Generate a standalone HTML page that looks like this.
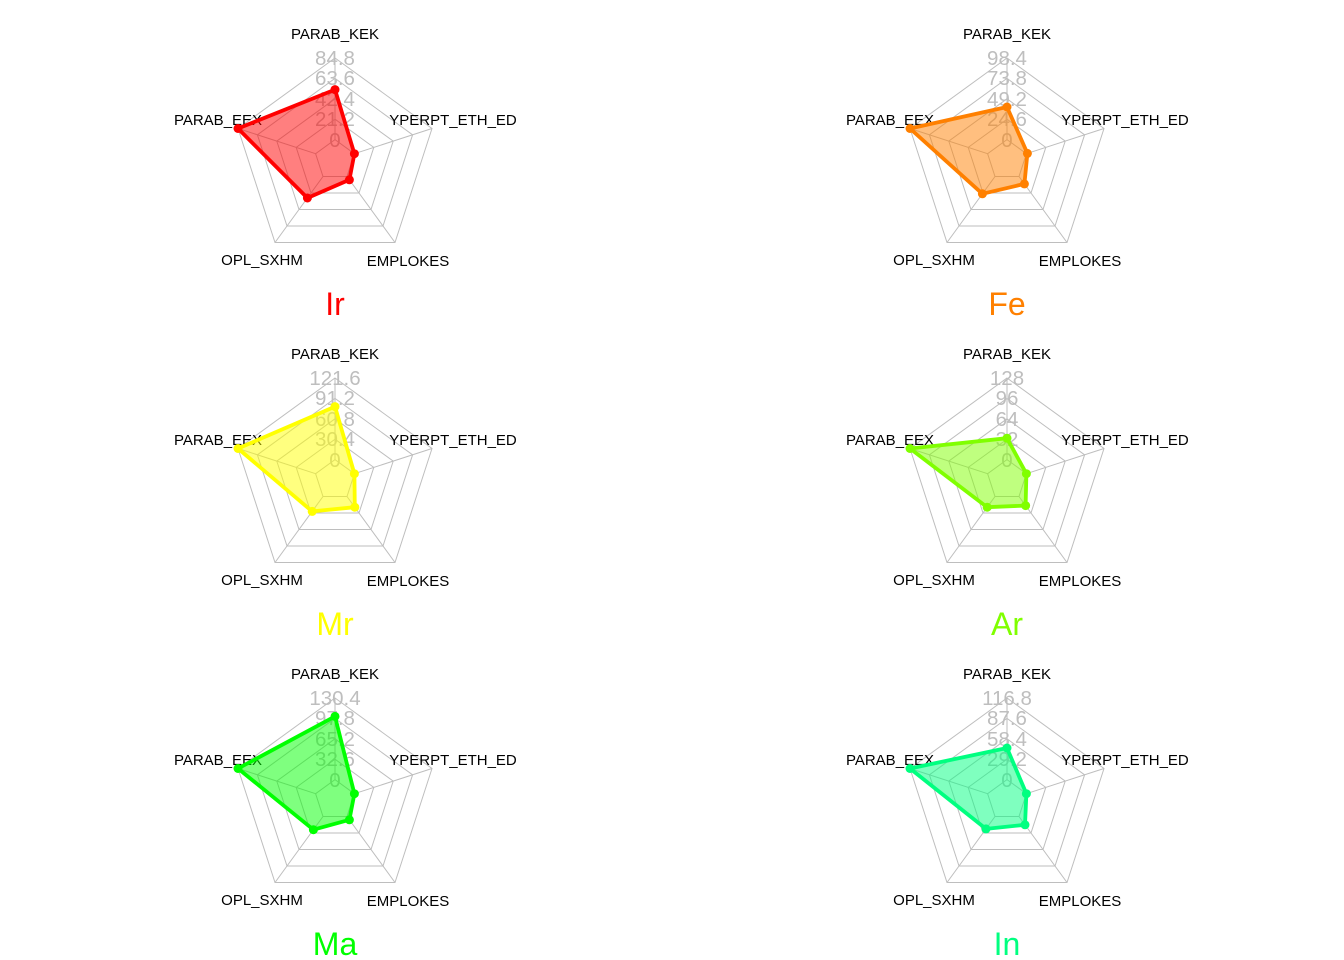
<!DOCTYPE html>
<html><head><meta charset="utf-8"><style>
html,body{margin:0;padding:0;background:#fff;}
svg{display:block;}
.l{font-family:"Liberation Sans",sans-serif;font-size:15px;fill:#000;text-anchor:middle;}
.t{font-family:"Liberation Sans",sans-serif;font-size:20.5px;fill:#bebebe;text-anchor:middle;}
.h{font-family:"Liberation Sans",sans-serif;font-size:32px;text-anchor:middle;}
polygon.d{stroke-width:3.8;stroke-linejoin:round;}
</style></head><body>
<svg width="1344" height="960" viewBox="0 0 1344 960" xmlns="http://www.w3.org/2000/svg">
<defs>
<g id="grid" fill="none" stroke="#bebebe" stroke-width="1">
<polygon points="0,-20.4 19.4,-6.3 12,16.5 -12,16.5 -19.4,-6.3"/>
<polygon points="0,-40.8 38.8,-12.6 24,33 -24,33 -38.8,-12.6"/>
<polygon points="0,-61.2 58.2,-18.9 36,49.5 -36,49.5 -58.2,-18.9"/>
<polygon points="0,-81.6 77.6,-25.2 48,66 -48,66 -77.6,-25.2"/>
<polygon points="0,-102 97,-31.5 60,82.5 -60,82.5 -97,-31.5"/>
<line x1="0" y1="-20.4" x2="0" y2="-102"/>
<line x1="19.4" y1="-6.3" x2="97" y2="-31.5"/>
<line x1="12" y1="16.5" x2="60" y2="82.5"/>
<line x1="-12" y1="16.5" x2="-60" y2="82.5"/>
<line x1="-19.4" y1="-6.3" x2="-97" y2="-31.5"/>
</g>
</defs>

<g transform="translate(335,160)">
<use href="#grid"/>
<text class="l" x="0" y="-121">PARAB_KEK</text><text class="l" x="-117" y="-35">PARAB_EEX</text><text class="l" x="118" y="-35">YPERPT_ETH_ED</text><text class="l" x="-73" y="105">OPL_SXHM</text><text class="l" x="73" y="106">EMPLOKES</text>
<text class="t" x="0" y="-95">84.8</text><text class="t" x="0" y="-75">63.6</text><text class="t" x="0" y="-54">42.4</text><text class="t" x="0" y="-34">21.2</text><text class="t" x="0" y="-13">0</text>
<polygon class="d" points="0,-70.4 19.4,-6.3 14.4,19.8 -27.6,38 -97,-31.5" fill="rgba(255,0,0,0.5)" stroke="#ff0000"/>
<g fill="#ff0000"><circle cx="0" cy="-70.4" r="4.5"/><circle cx="19.4" cy="-6.3" r="4.5"/><circle cx="14.4" cy="19.8" r="4.5"/><circle cx="-27.6" cy="38" r="4.5"/><circle cx="-97" cy="-31.5" r="4.5"/></g>
<text class="h" x="0" y="155" fill="#ff0000">Ir</text>
</g>

<g transform="translate(1007,160)">
<use href="#grid"/>
<text class="l" x="0" y="-121">PARAB_KEK</text><text class="l" x="-117" y="-35">PARAB_EEX</text><text class="l" x="118" y="-35">YPERPT_ETH_ED</text><text class="l" x="-73" y="105">OPL_SXHM</text><text class="l" x="73" y="106">EMPLOKES</text>
<text class="t" x="0" y="-95">98.4</text><text class="t" x="0" y="-75">73.8</text><text class="t" x="0" y="-54">49.2</text><text class="t" x="0" y="-34">24.6</text><text class="t" x="0" y="-13">0</text>
<polygon class="d" points="0,-53 20.4,-6.6 17.4,23.9 -24.6,33.8 -97,-31.5" fill="rgba(255,128,0,0.5)" stroke="#ff8000"/>
<g fill="#ff8000"><circle cx="0" cy="-53" r="4.5"/><circle cx="20.4" cy="-6.6" r="4.5"/><circle cx="17.4" cy="23.9" r="4.5"/><circle cx="-24.6" cy="33.8" r="4.5"/><circle cx="-97" cy="-31.5" r="4.5"/></g>
<text class="h" x="0" y="155" fill="#ff8000">Fe</text>
</g>

<g transform="translate(335,480)">
<use href="#grid"/>
<text class="l" x="0" y="-121">PARAB_KEK</text><text class="l" x="-117" y="-35">PARAB_EEX</text><text class="l" x="118" y="-35">YPERPT_ETH_ED</text><text class="l" x="-73" y="105">OPL_SXHM</text><text class="l" x="73" y="106">EMPLOKES</text>
<text class="t" x="0" y="-95">121.6</text><text class="t" x="0" y="-75">91.2</text><text class="t" x="0" y="-54">60.8</text><text class="t" x="0" y="-34">30.4</text><text class="t" x="0" y="-13">0</text>
<polygon class="d" points="0,-73.4 19.4,-6.3 19.8,27.2 -22.8,31.4 -97,-31.5" fill="rgba(255,255,0,0.5)" stroke="#ffff00"/>
<g fill="#ffff00"><circle cx="0" cy="-73.4" r="4.5"/><circle cx="19.4" cy="-6.3" r="4.5"/><circle cx="19.8" cy="27.2" r="4.5"/><circle cx="-22.8" cy="31.4" r="4.5"/><circle cx="-97" cy="-31.5" r="4.5"/></g>
<text class="h" x="0" y="155" fill="#ffff00">Mr</text>
</g>

<g transform="translate(1007,480)">
<use href="#grid"/>
<text class="l" x="0" y="-121">PARAB_KEK</text><text class="l" x="-117" y="-35">PARAB_EEX</text><text class="l" x="118" y="-35">YPERPT_ETH_ED</text><text class="l" x="-73" y="105">OPL_SXHM</text><text class="l" x="73" y="106">EMPLOKES</text>
<text class="t" x="0" y="-95">128</text><text class="t" x="0" y="-75">96</text><text class="t" x="0" y="-54">64</text><text class="t" x="0" y="-34">32</text><text class="t" x="0" y="-13">0</text>
<polygon class="d" points="0,-41.8 19.4,-6.3 18.6,25.6 -19.8,27.2 -97,-31.5" fill="rgba(128,255,0,0.5)" stroke="#80ff00"/>
<g fill="#80ff00"><circle cx="0" cy="-41.8" r="4.5"/><circle cx="19.4" cy="-6.3" r="4.5"/><circle cx="18.6" cy="25.6" r="4.5"/><circle cx="-19.8" cy="27.2" r="4.5"/><circle cx="-97" cy="-31.5" r="4.5"/></g>
<text class="h" x="0" y="155" fill="#80ff00">Ar</text>
</g>

<g transform="translate(335,800)">
<use href="#grid"/>
<text class="l" x="0" y="-121">PARAB_KEK</text><text class="l" x="-117" y="-35">PARAB_EEX</text><text class="l" x="118" y="-35">YPERPT_ETH_ED</text><text class="l" x="-73" y="105">OPL_SXHM</text><text class="l" x="73" y="106">EMPLOKES</text>
<text class="t" x="0" y="-95">130.4</text><text class="t" x="0" y="-75">97.8</text><text class="t" x="0" y="-54">65.2</text><text class="t" x="0" y="-34">32.6</text><text class="t" x="0" y="-13">0</text>
<polygon class="d" points="0,-83.6 19.4,-6.3 14.4,19.8 -21.6,29.7 -97,-31.5" fill="rgba(0,255,0,0.5)" stroke="#00ff00"/>
<g fill="#00ff00"><circle cx="0" cy="-83.6" r="4.5"/><circle cx="19.4" cy="-6.3" r="4.5"/><circle cx="14.4" cy="19.8" r="4.5"/><circle cx="-21.6" cy="29.7" r="4.5"/><circle cx="-97" cy="-31.5" r="4.5"/></g>
<text class="h" x="0" y="155" fill="#00ff00">Ma</text>
</g>

<g transform="translate(1007,800)">
<use href="#grid"/>
<text class="l" x="0" y="-121">PARAB_KEK</text><text class="l" x="-117" y="-35">PARAB_EEX</text><text class="l" x="118" y="-35">YPERPT_ETH_ED</text><text class="l" x="-73" y="105">OPL_SXHM</text><text class="l" x="73" y="106">EMPLOKES</text>
<text class="t" x="0" y="-95">116.8</text><text class="t" x="0" y="-75">87.6</text><text class="t" x="0" y="-54">58.4</text><text class="t" x="0" y="-34">29.2</text><text class="t" x="0" y="-13">0</text>
<polygon class="d" points="0,-52 19.4,-6.3 18,24.8 -21,28.9 -97,-31.5" fill="rgba(0,255,128,0.5)" stroke="#00ff80"/>
<g fill="#00ff80"><circle cx="0" cy="-52" r="4.5"/><circle cx="19.4" cy="-6.3" r="4.5"/><circle cx="18" cy="24.8" r="4.5"/><circle cx="-21" cy="28.9" r="4.5"/><circle cx="-97" cy="-31.5" r="4.5"/></g>
<text class="h" x="0" y="155" fill="#00ff80">In</text>
</g>
</svg>
</body></html>
